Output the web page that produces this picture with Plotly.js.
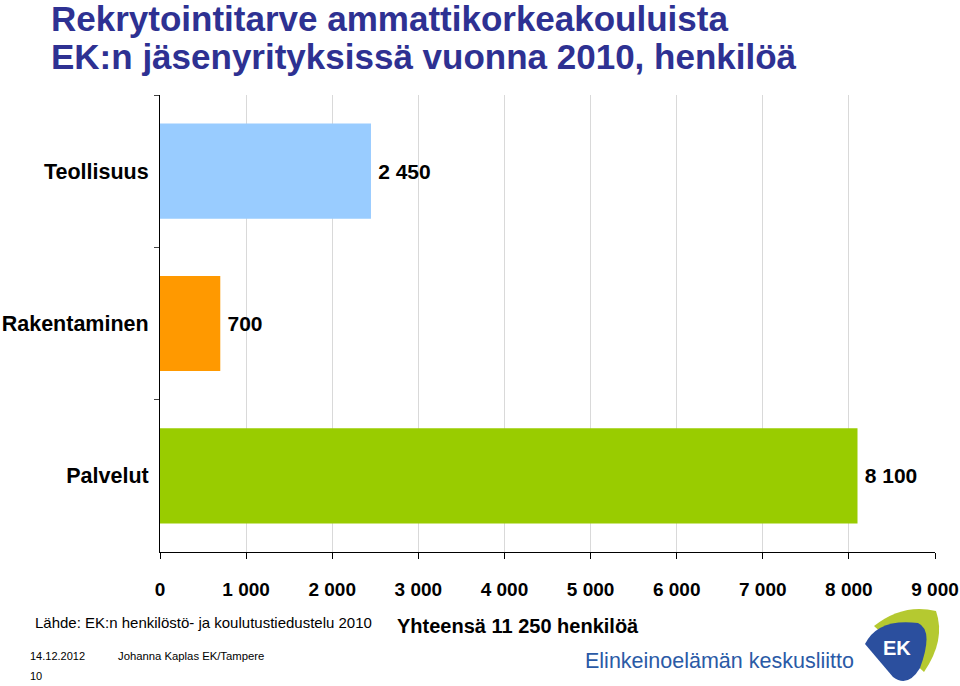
<!DOCTYPE html>
<html>
<head>
<meta charset="utf-8">
<script src="https://cdn.plot.ly/plotly-3.0.1.min.js"></script>
<style>
html,body{margin:0;padding:0;background:#fff;}
#chart{width:960px;height:686px;}
</style>
</head>
<body>
<div id="chart"></div>
<script>
const categories = ["Teollisuus", "Rakentaminen", "Palvelut"];
const values = [2450, 700, 8100];
const valueLabels = ["2 450", "700", "8 100"];
const barColors = ["#99CCFF", "#FF9900", "#99CC00"];
const tickVals = [0, 1000, 2000, 3000, 4000, 5000, 6000, 7000, 8000, 9000];
const tickText = ["0", "1 000", "2 000", "3 000", "4 000", "5 000", "6 000", "7 000", "8 000", "9 000"];
const titleLines = ["Rekrytointitarve ammattikorkeakouluista", "EK:n jäsenyrityksissä vuonna 2010, henkilöä"];

const NARROW = 'Liberation Sans Narrow, Arial Narrow, Liberation Sans, Arial, sans-serif';
const SANS = 'Liberation Sans, Arial, sans-serif';

// plot area in pixels
const L = 160, R = 935, T = 95, B = 552;
const px = x => (x - L) / (R - L);
const py = y => (B - y) / (B - T);

const trace = {
  type: 'bar',
  orientation: 'h',
  y: categories,
  x: values,
  text: valueLabels.map(t => '\u2009' + t),
  textposition: 'outside',
  cliponaxis: false,
  textfont: {family: NARROW, size: 21, color: '#000', weight: 'bold'},
  marker: {color: barColors, line: {width: 0}},
  hoverinfo: 'none'
};

const layout = {
  width: 960, height: 686,
  margin: {l: L, r: 960 - R, t: T, b: 686 - B},
  paper_bgcolor: '#fff', plot_bgcolor: '#fff',
  showlegend: false,
  bargap: 0.375,
  xaxis: {
    range: [0, 9000],
    tickvals: tickVals, ticktext: tickText,
    tickfont: {family: NARROW, size: 19, color: '#000', weight: 'bold'},
    showgrid: true, gridcolor: '#D9D9D9', gridwidth: 1,
    showline: true, linecolor: '#000', linewidth: 1,
    ticks: 'outside', ticklen: 6, tickcolor: '#000',
    ticklabelstandoff: 14,
    zeroline: false, fixedrange: true
  },
  yaxis: {
    categoryorder: 'array', categoryarray: categories,
    autorange: 'reversed',
    tickfont: {family: SANS, size: 21.5, color: '#000', weight: 'bold'},
    showline: true, linecolor: '#000', linewidth: 1,
    ticks: 'outside', ticklen: 5, tickcolor: '#444',
    tickson: 'boundaries',
    ticklabelstandoff: 6,
    showgrid: false, zeroline: false, fixedrange: true
  },
  shapes: [
    {type: 'path', xref: 'paper', yref: 'paper',
     path: `M ${px(874)},${py(626)} Q ${px(903)},${py(603)} ${px(936)},${py(611)} Q ${px(946)},${py(640)} ${px(924)},${py(672)} Z`,
     fillcolor: '#B5C930', line: {width: 0}},
    {type: 'path', xref: 'paper', yref: 'paper',
     path: `M ${px(865)},${py(644)} Q ${px(878)},${py(618)} ${px(918)},${py(623)} Q ${px(934)},${py(630)} ${px(920)},${py(668)} Q ${px(908)},${py(688)} ${px(893)},${py(677)} Z`,
     fillcolor: '#2B4F9E', line: {width: 0}}
  ],
  annotations: [
    {xref: 'paper', yref: 'paper', x: px(49), y: py(18), xanchor: 'left', yanchor: 'middle',
     text: titleLines[0], showarrow: false,
     font: {family: NARROW, size: 35, color: '#2E3192', weight: 'bold'}},
    {xref: 'paper', yref: 'paper', x: px(49), y: py(57), xanchor: 'left', yanchor: 'middle',
     text: titleLines[1], showarrow: false,
     font: {family: NARROW, size: 35, color: '#2E3192', weight: 'bold'}},
    {xref: 'paper', yref: 'paper', x: px(33), y: py(622), xanchor: 'left', yanchor: 'middle',
     text: 'Lähde: EK:n henkilöstö- ja koulutustiedustelu 2010', showarrow: false,
     font: {family: NARROW, size: 15, color: '#000'}},
    {xref: 'paper', yref: 'paper', x: px(395), y: py(626), xanchor: 'left', yanchor: 'middle',
     text: 'Yhteensä 11 250 henkilöä', showarrow: false,
     font: {family: NARROW, size: 20, color: '#000', weight: 'bold'}},
    {xref: 'paper', yref: 'paper', x: px(28), y: py(656), xanchor: 'left', yanchor: 'middle',
     text: '14.12.2012', showarrow: false,
     font: {family: NARROW, size: 11, color: '#000'}},
    {xref: 'paper', yref: 'paper', x: px(116), y: py(656), xanchor: 'left', yanchor: 'middle',
     text: 'Johanna Kaplas EK/Tampere', showarrow: false,
     font: {family: NARROW, size: 11.3, color: '#000'}},
    {xref: 'paper', yref: 'paper', x: px(28), y: py(676), xanchor: 'left', yanchor: 'middle',
     text: '10', showarrow: false,
     font: {family: NARROW, size: 11, color: '#000'}},
    {xref: 'paper', yref: 'paper', x: px(583), y: py(661), xanchor: 'left', yanchor: 'middle',
     text: 'Elinkeinoelämän keskusliitto', showarrow: false,
     font: {family: NARROW, size: 21.5, color: '#2A5AA6'}},
    {xref: 'paper', yref: 'paper', x: px(897), y: py(648), xanchor: 'center', yanchor: 'middle',
     text: 'EK', showarrow: false,
     font: {family: SANS, size: 20, color: '#fff', weight: 'bold'}}
  ]
};

Plotly.newPlot('chart', [trace], layout, {displayModeBar: false, staticPlot: true});
</script>
</body>
</html>
